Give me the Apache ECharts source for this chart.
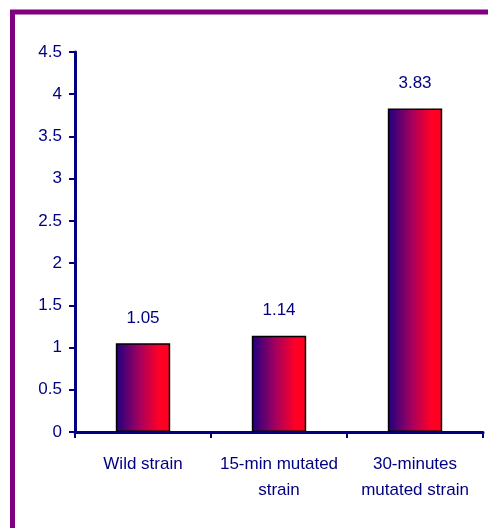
<!DOCTYPE html>
<html>
<head>
<meta charset="utf-8">
<script src="https://cdn.jsdelivr.net/npm/echarts@6/dist/echarts.min.js"></script>
<style>
  html, body { margin: 0; padding: 0; background: #ffffff; }
  #chart { width: 488px; height: 528px; }
</style>
</head>
<body>
<div id="chart"></div>
<script>
// Strain categories and measured values
const categories = ['Wild strain', '15-min mutated\nstrain', '30-minutes\nmutated strain'];
const values = [1.05, 1.14, 3.83];
const yTicks = { min: 0, max: 4.5, interval: 0.5 };

const navy = '#000080';
const font = 'Liberation Sans, Arial, sans-serif';
const chart = echarts.init(document.getElementById('chart'));

const barFill = new echarts.graphic.LinearGradient(0, 0, 1, 0, [
  { offset: 0, color: '#1e0082' },
  { offset: 0.45, color: '#a8005e' },
  { offset: 0.8, color: '#ff0026' },
  { offset: 1, color: '#ff0020' }
]);

chart.setOption({
  animation: false,
  backgroundColor: '#ffffff',
  graphic: [{
    type: 'rect',
    shape: { x: 12.5, y: 12, width: 500, height: 540 },
    style: { fill: 'none', stroke: '#800080', lineWidth: 5 }
  }],
  grid: { left: 75, right: 5, top: 52, bottom: 96 },
  xAxis: {
    type: 'category',
    data: categories,
    axisLine: { lineStyle: { color: navy, width: 3 } },
    axisTick: { show: true, length: 6, lineStyle: { color: navy, width: 2 } },
    axisLabel: {
      color: navy, fontSize: 17, fontFamily: font,
      margin: 19, lineHeight: 26, interval: 0
    }
  },
  yAxis: {
    type: 'value',
    min: yTicks.min, max: yTicks.max, interval: yTicks.interval,
    axisLine: { show: true, lineStyle: { color: navy, width: 3 } },
    axisTick: { show: true, length: 6, lineStyle: { color: navy, width: 2 } },
    splitLine: { show: false },
    axisLabel: { color: navy, fontSize: 17, fontFamily: font, margin: 13 }
  },
  series: [{
    type: 'bar',
    data: values,
    barWidth: '40%',
    itemStyle: { color: barFill, borderColor: '#000000', borderWidth: 1.5 },
    label: {
      show: true, position: 'top', distance: 17,
      color: navy, fontSize: 17, fontFamily: font,
      formatter: p => p.value.toFixed(2)
    }
  }]
});
</script>
</body>
</html>
